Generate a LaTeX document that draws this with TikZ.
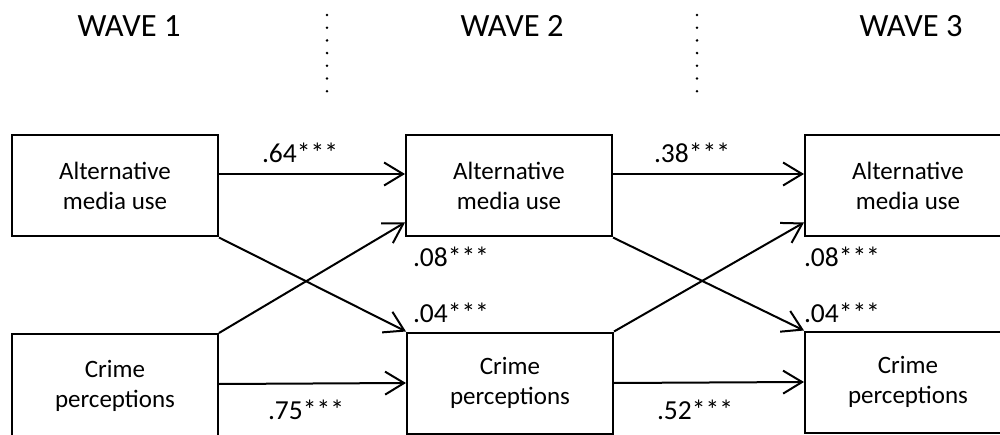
\documentclass[tikz,border=0pt]{standalone}
\usepackage{fontspec}
\setmainfont{Carlito}
\usetikzlibrary{arrows.meta}
\begin{document}
\begin{tikzpicture}[x=1pt,y=-1pt,line width=2pt,
  var/.style={draw,minimum width=206pt,minimum height=101pt,align=center,
    font=\fontsize{25}{30}\selectfont},
  coef/.style={inner sep=0pt,font=\fontsize{27.5}{30}\selectfont},
  wave/.style={font=\fontsize{32.5}{36}\selectfont},
  path/.style={-{Straight Barb[length=19pt,width=23pt]}}]
\useasboundingbox (0,0) rectangle (1000,435);
\clip (0,0) rectangle (1000,435);

% wave headers
\node[wave] (w1) at (129,26) {WAVE 1};
\node[wave] (w2) at (512,26) {WAVE 2};
\node[wave] (w3) at (911,26) {WAVE 3};
\draw[line width=2.8pt,line cap=round,dash pattern=on 0pt off 12.7pt] (327,15) -- (327,92);
\draw[line width=2.8pt,line cap=round,dash pattern=on 0pt off 12.7pt] (697,15) -- (697,92);

% variables
\node[var] (amu1) at (115,186) {Alternative\\media use};
\node[var,minimum height=104pt] (cp1) at (115,386) {Crime\\perceptions};
\node[var] (amu2) at (509,186) {Alternative\\media use};
\node[var] (cp2) at (510,383) {Crime\\perceptions};
\node[var] (amu3) at (908,186) {Alternative\\media use};
\node[var] (cp3) at (908,382) {Crime\\perceptions};

% paths
\draw[path] ([yshift=12pt]amu1.east) -- ([yshift=12pt]amu2.west);
\draw[path] ([yshift=2pt]cp1.east) -- (cp2.west);
\draw[path] (amu1.south east) -- (cp2.north west);
\draw[path] (cp1.north east) -- ([yshift=15pt]amu2.south west);
\draw[path] ([yshift=12pt]amu2.east) -- ([yshift=12pt]amu3.west);
\draw[path] (cp2.east) -- (cp3.west);
\draw[path] (amu2.south east) -- (cp3.north west);
\draw[path] (cp2.north east) -- ([yshift=15pt]amu3.south west);

% coefficients
\node[coef] (b1) at (300,153) {.64***};
\node[coef] (b2) at (306,410) {.75***};
\node[coef,anchor=west] (b3) at (412,257) {.08***};
\node[coef,anchor=west] (b4) at (412,313) {.04***};
\node[coef] (b5) at (692,153) {.38***};
\node[coef] (b6) at (695,410) {.52***};
\node[coef,anchor=west] (b7) at (803,257) {.08***};
\node[coef,anchor=west] (b8) at (803,313) {.04***};
\end{tikzpicture}
\end{document}
